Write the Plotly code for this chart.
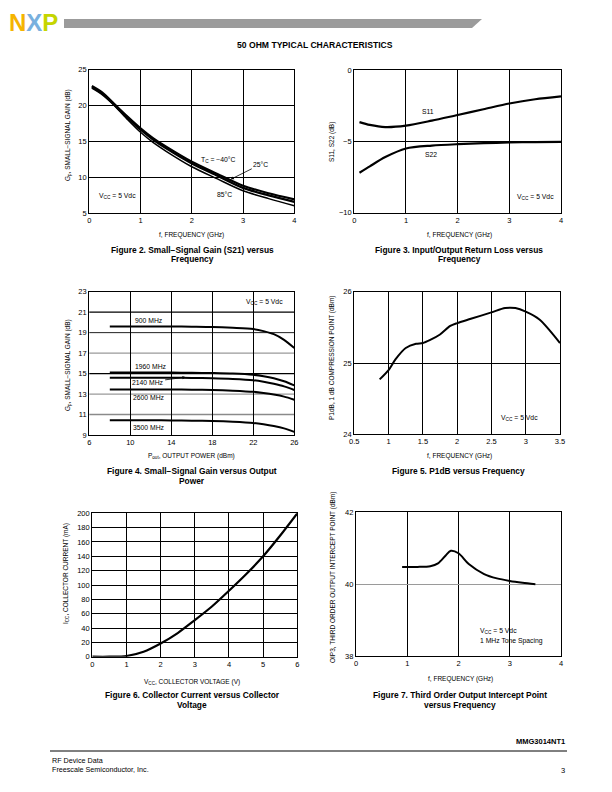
import plotly.graph_objects as go

# ---------------- data ----------------
# Figure 2: small-signal gain vs frequency
freq_s21 = [0.05, 0.25, 0.5, 0.75, 1.0, 1.25, 1.5, 2.0, 2.5, 3.0, 3.5, 4.0]
gain_m40 = [22.7, 21.8, 20.1, 18.4, 16.8, 15.4, 14.25, 12.15, 10.45, 8.8, 7.75, 6.9]
gain_25 = [22.55, 21.65, 20.0, 18.25, 16.6, 15.2, 14.0, 11.9, 10.2, 8.5, 7.45, 6.55]
gain_85 = [22.4, 21.5, 19.9, 18.0, 16.25, 14.8, 13.6, 11.45, 9.75, 8.1, 7.0, 6.0]

# Figure 3: return loss vs frequency
freq_s = [0.1, 0.3, 0.6, 1.0, 1.5, 2.0, 2.5, 3.0, 3.5, 4.0]
s11 = [-3.65, -3.85, -4.0, -3.9, -3.55, -3.15, -2.75, -2.35, -2.05, -1.85]
s22 = [-7.2, -6.75, -6.1, -5.5, -5.3, -5.2, -5.13, -5.08, -5.05, -5.03]

# Figure 4: gain vs output power
pout = [8, 10, 12, 14, 16, 18, 20, 22, 23, 24, 25, 26]
g900 = [19.6, 19.6, 19.6, 19.6, 19.58, 19.55, 19.47, 19.35, 19.15, 18.85, 18.3, 17.5]
g1960 = [15.1, 15.1, 15.1, 15.1, 15.08, 15.05, 15.0, 14.88, 14.75, 14.55, 14.25, 13.85]
g2140 = [14.6, 14.6, 14.6, 14.6, 14.58, 14.55, 14.48, 14.35, 14.2, 14.0, 13.75, 13.4]
g2600 = [13.45, 13.45, 13.45, 13.45, 13.43, 13.4, 13.33, 13.22, 13.1, 12.95, 12.75, 12.45]
g3500 = [10.45, 10.45, 10.45, 10.42, 10.4, 10.37, 10.3, 10.18, 10.05, 9.88, 9.65, 9.3]

# Figure 5: P1dB vs frequency
f_p1 = [0.87, 1.0, 1.1, 1.25, 1.4, 1.5, 1.6, 1.75, 1.9, 2.0, 2.2, 2.5, 2.7, 2.85, 3.0, 3.2, 3.5]
p1db = [24.77, 24.9, 25.05, 25.21, 25.27, 25.28, 25.32, 25.4, 25.52, 25.56, 25.62, 25.71, 25.77, 25.77, 25.72, 25.61, 25.28]

# Figure 6: collector current vs voltage
vcc = [0, 0.5, 1.0, 1.5, 2.0, 2.5, 3.0, 3.5, 4.0, 4.5, 5.0, 5.5, 6.0]
icc = [0, 0, 1, 7, 18.5, 33, 51, 70, 92, 115, 140, 169, 200]

# Figure 7: OIP3 vs frequency
f_oip = [0.9, 1.2, 1.45, 1.6, 1.75, 1.85, 2.0, 2.2, 2.5, 2.75, 3.0, 3.25, 3.5]
oip3 = [40.48, 40.48, 40.5, 40.58, 40.8, 40.93, 40.86, 40.56, 40.28, 40.16, 40.09, 40.04, 40.0]

OFF = 8                      # default page body margin
W, H = 612 - 2 * OFF, 792 - 2 * OFF
NARROW = "Liberation Sans Narrow, Arial Narrow, Liberation Sans, Arial"
BOLD = "Liberation Sans, Arial"


def px(x):
    return (x - OFF) / W


def py(y):
    return 1 - (y - OFF) / H


fig = go.Figure()


def axis(x0, x1, rng, dtick, tick0=None, grid="black", showgrid=True):
    d = dict(domain=[px(x0), px(x1)], range=rng, dtick=dtick, showline=True, mirror=True,
             linecolor="black", linewidth=1.3, showgrid=showgrid, gridcolor=grid, gridwidth=1.3,
             ticks="", zeroline=False, fixedrange=True, automargin=False,
             tickfont=dict(family=NARROW, size=7.5, color="black"))
    if tick0 is not None:
        d["tick0"] = tick0
    return d


def yaxis(y_top, y_bot, rng, dtick, tick0=None, grid="black", showgrid=True):
    d = axis(OFF, OFF + 1, rng, dtick, tick0, grid, showgrid)
    d["domain"] = [py(y_bot), py(y_top)]
    return d


line = dict(color="black", shape="spline", smoothing=0.8)

# Figure 2
for ys, w in ((gain_m40, 2.2), (gain_25, 2.2), (gain_85, 1.5)):
    fig.add_trace(go.Scatter(x=freq_s21, y=ys, mode="lines", line=dict(width=w, **line),
                             xaxis="x", yaxis="y", showlegend=False, hoverinfo="skip"))
# Figure 3
for ys in (s11, s22):
    fig.add_trace(go.Scatter(x=freq_s, y=ys, mode="lines", line=dict(width=2.2, **line),
                             xaxis="x2", yaxis="y2", showlegend=False, hoverinfo="skip"))
# Figure 4
for ys in (g900, g1960, g2140, g2600, g3500):
    fig.add_trace(go.Scatter(x=pout, y=ys, mode="lines", line=dict(width=2.0, **line),
                             xaxis="x3", yaxis="y3", showlegend=False, hoverinfo="skip"))
# Figure 5
fig.add_trace(go.Scatter(x=f_p1, y=p1db, mode="lines", line=dict(width=2.0, **line),
                         xaxis="x4", yaxis="y4", showlegend=False, hoverinfo="skip"))
# Figure 6
fig.add_trace(go.Scatter(x=vcc, y=icc, mode="lines", line=dict(width=2.2, **line),
                         xaxis="x5", yaxis="y5", showlegend=False, hoverinfo="skip"))
# Figure 7
fig.add_trace(go.Scatter(x=f_oip, y=oip3, mode="lines", line=dict(width=2.0, **line),
                         xaxis="x6", yaxis="y6", showlegend=False, hoverinfo="skip"))

xa1 = axis(89.3, 294.3, [0, 4], 1); xa1["anchor"] = "y"
ya1 = yaxis(69.5, 213, [5, 25], 5); ya1["anchor"] = "x"
xa2 = axis(354.3, 561, [0, 4], 1); xa2["anchor"] = "y2"
ya2 = yaxis(70, 212.7, [-10, 0], 5); ya2["anchor"] = "x2"
xa3 = axis(89.3, 294.3, [6, 26], 4, tick0=6); xa3["anchor"] = "y3"
ya3 = yaxis(291.7, 435, [9, 23], 2, tick0=9, showgrid=False); ya3["anchor"] = "x3"
xa4 = axis(354.3, 560, [0.5, 3.5], 0.5); xa4["anchor"] = "y4"
ya4 = yaxis(291.7, 434.3, [24, 26], 1); ya4["anchor"] = "x4"
xa5 = axis(92.3, 297.3, [0, 6], 1); xa5["anchor"] = "y5"
ya5 = yaxis(513.3, 656.7, [0, 200], 20); ya5["anchor"] = "x5"
xa6 = axis(356, 561, [0, 4], 1); xa6["anchor"] = "y6"
ya6 = yaxis(512.3, 656, [38, 42], 2, grid="#9a9a9a"); ya6["anchor"] = "x6"

shapes = []
# custom horizontal grid for figure 4
for val, col, w in [(21, "#000000", 1.4), (19, "#222222", 1.0), (17, "#9a9a9a", 1.2),
                    (15, "#000000", 1.4), (13, "#9a9a9a", 1.2), (11, "#8a8a8a", 1.5)]:
    shapes.append(dict(type="line", xref="x3 domain", yref="y3", x0=0, x1=1, y0=val, y1=val,
                       line=dict(color=col, width=w), layer="below"))
# header bar
shapes.append(dict(type="path", xref="paper", yref="paper",
                   path=f"M {px(64)},{py(19)} L {px(482)},{py(19)} L {px(472)},{py(28)} L {px(64)},{py(28)} Z",
                   fillcolor="#9b9b9b", line=dict(width=0)))
# footer rule
shapes.append(dict(type="line", xref="paper", yref="paper", x0=px(50), x1=px(567), y0=py(751), y1=py(751),
                   line=dict(color="black", width=1)))

ann = []


def txt(x, y, s, size=6.5, family=NARROW, angle=0, xanchor="center", bold=False, color="black"):
    if bold:
        s = "<b>" + s + "</b>"
    ann.append(dict(x=px(x), y=py(y), xref="paper", yref="paper", text=s, showarrow=False,
                    xanchor=xanchor, yanchor="middle", textangle=angle,
                    font=dict(family=family, size=size, color=color)))


# logo
ann.append(dict(x=px(8), y=1, xref="paper", yref="paper", showarrow=False, xanchor="left",
                yanchor="top", borderpad=0,
                text="<b><span style='color:#F5B400'>N</span><span style='color:#78B0DE'>X</span>"
                     "<span style='color:#C5D500'>P</span></b>",
                font=dict(family="Liberation Sans, Arial", size=24)))
txt(315, 45, "50 OHM TYPICAL CHARACTERISTICS", size=8.6, family=BOLD, bold=True)

# axis titles
txt(191.7, 234.5, "f, FREQUENCY (GHz)")
txt(68, 135, "G<sub>p</sub>, SMALL−SIGNAL GAIN (dB)", angle=-90)
txt(459, 234.5, "f, FREQUENCY (GHz)")
txt(332, 142, "S11, S22 (dB)", angle=-90)
txt(191.7, 456, "P<sub>out</sub>, OUTPUT POWER (dBm)")
txt(68, 365, "G<sub>p</sub>, SMALL−SIGNAL GAIN (dB)", angle=-90)
txt(459, 456, "f, FREQUENCY (GHz)")
txt(332, 358, "P1dB, 1 dB COMPRESSION POINT (dBm)", angle=-90)
txt(191.7, 681.5, "V<sub>CC</sub>, COLLECTOR VOLTAGE (V)")
txt(66, 574, "I<sub>CC</sub>, COLLECTOR CURRENT (mA)", angle=-90)
txt(460, 678.5, "f, FREQUENCY (GHz)")
txt(333, 578, "OIP3, THIRD ORDER OUTPUT INTERCEPT POINT (dBm)", angle=-90)

# captions
cap = dict(size=8.4, family=BOLD, bold=True)
txt(192, 249.5, "Figure 2. Small−Signal Gain (S21) versus", **cap)
txt(192, 259.5, "Frequency", **cap)
txt(459, 249.5, "Figure 3. Input/Output Return Loss versus", **cap)
txt(459, 259.5, "Frequency", **cap)
txt(192, 471, "Figure 4. Small−Signal Gain versus Output", **cap)
txt(192, 481, "Power", **cap)
txt(458, 471, "Figure 5. P1dB versus Frequency", **cap)
txt(192, 694.5, "Figure 6. Collector Current versus Collector", **cap)
txt(192, 704.5, "Voltage", **cap)
txt(460, 694.5, "Figure 7. Third Order Output Intercept Point", **cap)
txt(460, 704.5, "versus Frequency", **cap)

# in-plot labels
txt(218, 160, "T<sub>C</sub> = −40°C", size=6.8)
txt(224, 194, "85°C", size=6.8)
txt(117, 196, "V<sub>CC</sub> = 5 Vdc", size=6.8)
txt(428, 112, "S11", size=6.8)
txt(431, 154, "S22", size=6.8)
txt(535, 197, "V<sub>CC</sub> = 5 Vdc", size=6.8)
txt(149, 320, "900 MHz", size=6.8)
txt(151, 366, "1960 MHz", size=6.8)
txt(149, 397, "2600 MHz", size=6.8)
txt(149, 427, "3500 MHz", size=6.8)
txt(264, 302, "V<sub>CC</sub> = 5 Vdc", size=6.8)
txt(519, 418, "V<sub>CC</sub> = 5 Vdc", size=6.8)
txt(478, 631, "V<sub>CC</sub> = 5 Vdc", size=6.8, xanchor="left")
txt(478, 641, "1 MHz Tone Spacing", size=6.8, xanchor="left")

# arrowed labels
ann.append(dict(x=2.76, y=9.7, xref="x", yref="y", ax=30, ay=-15,
                text="25°C", showarrow=True, arrowhead=2, arrowsize=0.8, arrowwidth=0.8, arrowcolor="black",
                standoff=0, font=dict(family=NARROW, size=6.8, color="black")))
ann.append(dict(x=15.4, y=14.65, xref="x3", yref="y3", ax=-38, ay=5,
                text="2140 MHz", showarrow=True, arrowhead=2, arrowsize=0.8, arrowwidth=0.8, arrowcolor="black",
                standoff=0, font=dict(family=NARROW, size=6.8, color="black")))

# footer
txt(567, 741, "MMG3014NT1", size=7.5, family=BOLD, bold=True, xanchor="right")
txt(50, 760, "RF Device Data", size=7.2, family=BOLD, xanchor="left")
txt(50, 769, "Freescale Semiconductor, Inc.", size=7.2, family=BOLD, xanchor="left")
txt(567, 770, "3", size=7.5, family=BOLD, xanchor="right")

fig.update_layout(
    width=W, height=H, margin=dict(l=0, r=0, t=0, b=0), autosize=False,
    paper_bgcolor="white", plot_bgcolor="white", showlegend=False,
    xaxis=xa1, yaxis=ya1, xaxis2=xa2, yaxis2=ya2, xaxis3=xa3, yaxis3=ya3,
    xaxis4=xa4, yaxis4=ya4, xaxis5=xa5, yaxis5=ya5, xaxis6=xa6, yaxis6=ya6,
    shapes=shapes, annotations=ann,
)

fig.write_html("out.html", config={"displayModeBar": False})
